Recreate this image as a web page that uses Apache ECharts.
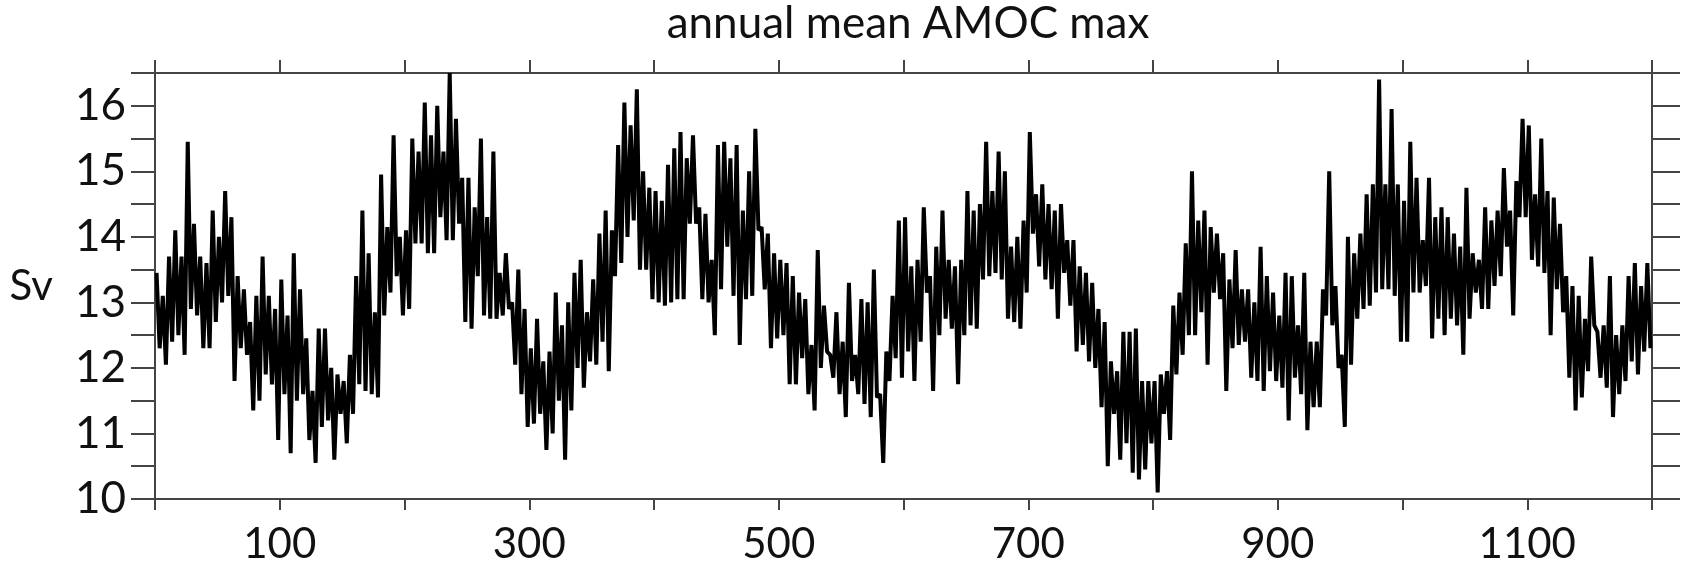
<!DOCTYPE html>
<html>
<head>
<meta charset="utf-8">
<script src="https://cdn.jsdelivr.net/npm/echarts@6/dist/echarts.min.js"></script>
<style>
html,body{margin:0;padding:0;background:#fff;}
#chart{width:1682px;height:577px;}
</style>
</head>
<body>
<div id="chart"></div>
<script>
// 5-year bins starting at year 0; upper and lower extent of the annual series in each bin (Sv)
const binWidth = 5;
const upper = [
  13.45, 13.1, 13.7, 14.1, 13.7, 15.45, 14.2, 13.7, 13.6, 14.4,
  14.0, 14.7, 14.3, 13.4, 13.2, 12.7, 13.1, 13.7, 13.1, 12.9,
  13.35, 12.8, 13.75, 13.2, 12.45, 11.65, 12.6, 12.6, 12.0, 11.9,
  11.8, 12.2, 13.4, 14.4, 13.75, 12.85, 14.95, 14.15, 15.55, 14.0,
  14.1, 15.5, 15.3, 16.05, 15.55, 16.0, 15.3, 16.5, 15.8, 14.9,
  14.9, 14.45, 15.5, 14.3, 15.3, 13.45, 13.75, 13.0, 13.5, 12.9,
  12.3, 12.75, 12.1, 12.25, 13.15, 12.65, 13.0, 13.45, 13.65, 12.85,
  13.35, 14.05, 14.4, 14.1, 15.4, 16.05, 15.7, 16.25, 15.0, 14.75,
  14.7, 14.55, 15.1, 15.35, 15.6, 15.2, 15.55, 14.45, 14.35, 13.65,
  15.4, 15.45, 15.2, 15.4, 14.4, 15.0, 15.65, 14.15, 14.05, 13.75,
  13.65, 13.6, 13.4, 13.15, 13.05, 12.35, 13.8, 12.95, 12.2, 12.85,
  12.4, 13.3, 12.2, 13.05, 13.0, 13.5, 11.6, 12.25, 13.1, 14.25,
  14.3, 13.55, 13.65, 14.45, 13.4, 13.85, 14.4, 13.65, 13.55, 13.65,
  14.7, 14.4, 14.5, 15.45, 14.7, 15.3, 15.0, 13.85, 14.0, 14.25,
  15.6, 14.65, 14.8, 14.5, 14.4, 14.5, 13.95, 13.95, 13.55, 13.45,
  13.3, 12.9, 12.7, 12.1, 11.95, 12.55, 12.55, 12.6, 11.8, 11.8,
  11.8, 11.9, 11.95, 12.95, 13.15, 13.9, 15.0, 14.25, 14.4, 14.15,
  14.05, 13.75, 13.35, 13.8, 13.2, 13.2, 13.0, 13.85, 13.4, 13.15,
  12.8, 13.45, 13.4, 12.65, 13.45, 12.4, 12.4, 13.2, 15.0, 13.25,
  12.2, 14.0, 13.75, 14.05, 14.65, 14.8, 16.4, 14.8, 15.95, 14.8,
  14.55, 15.45, 14.9, 13.95, 14.9, 14.3, 14.45, 14.3, 14.05, 13.85,
  14.75, 13.75, 13.65, 14.45, 14.25, 14.4, 15.05, 14.4, 14.85, 15.8,
  15.7, 14.65, 15.5, 14.7, 14.6, 14.2, 13.4, 13.25, 13.1, 12.75,
  13.7, 12.55, 12.65, 13.4, 12.5, 12.65, 13.4, 13.6, 13.25, 13.6
];
const lower = [
  12.3, 12.05, 12.4, 12.5, 12.2, 12.9, 12.8, 12.3, 12.3, 12.7,
  13.0, 13.1, 11.8, 12.3, 12.2, 11.35, 11.5, 11.9, 11.75, 10.9,
  11.6, 10.7, 11.5, 11.6, 10.9, 10.55, 11.1, 11.2, 10.6, 11.3,
  10.85, 11.3, 11.75, 11.65, 11.6, 11.55, 12.8, 13.15, 13.4, 12.8,
  12.9, 13.9, 13.9, 13.75, 13.75, 14.3, 13.95, 13.95, 14.2, 12.7,
  12.6, 13.4, 12.8, 12.75, 12.75, 12.8, 12.9, 12.05, 11.6, 11.1,
  11.15, 11.3, 10.75, 11.0, 11.5, 10.6, 11.35, 12.0, 11.7, 12.1,
  12.05, 12.4, 11.95, 13.4, 13.6, 14.0, 14.25, 13.5, 13.5, 13.05,
  13.0, 12.95, 13.0, 13.05, 13.05, 14.2, 14.2, 13.05, 13.0, 12.5,
  13.2, 13.85, 13.1, 12.35, 13.05, 13.1, 14.1, 13.2, 12.3, 12.45,
  12.5, 11.75, 11.75, 12.15, 11.6, 11.35, 12.0, 12.25, 11.85, 11.6,
  11.25, 11.8, 11.6, 11.45, 11.25, 11.55, 10.55, 11.8, 12.15, 11.85,
  12.25, 11.8, 12.4, 13.15, 11.65, 12.5, 12.75, 12.6, 11.75, 12.5,
  12.65, 12.6, 13.35, 13.4, 13.45, 13.35, 12.75, 12.7, 12.6, 13.15,
  14.05, 13.55, 13.35, 13.2, 12.75, 13.45, 12.95, 12.25, 12.35, 12.1,
  12.0, 11.4, 10.5, 11.3, 10.6, 10.85, 10.4, 10.3, 10.45, 10.85,
  10.1, 11.3, 10.9, 11.9, 12.2, 12.5, 12.5, 12.85, 12.05, 13.15,
  13.05, 11.65, 12.3, 12.35, 12.4, 11.85, 11.8, 11.65, 11.95, 11.8,
  11.7, 11.2, 11.85, 11.6, 11.05, 11.4, 11.4, 12.8, 12.65, 12.0,
  11.1, 12.05, 12.75, 12.9, 12.95, 13.15, 13.2, 13.2, 13.1, 12.4,
  12.4, 13.15, 13.15, 13.25, 12.45, 12.75, 12.5, 12.75, 12.65, 12.2,
  12.75, 13.15, 12.9, 12.9, 13.25, 13.4, 13.85, 12.8, 14.3, 14.3,
  13.65, 13.55, 13.45, 12.5, 13.2, 12.85, 11.85, 11.35, 11.55, 11.95,
  12.65, 11.85, 11.7, 11.25, 11.6, 11.8, 12.1, 11.9, 12.25, 12.3
];
const xLabelYears = [100, 300, 500, 700, 900, 1100];
const yLabelValues = [10, 11, 12, 13, 14, 15, 16];
const titleText = 'annual mean AMOC max';
const yName = 'Sv';

const series = [];
for (let i = 0; i < upper.length; i++) {
  series.push([i * binWidth + 1.25, upper[i]]);
  series.push([i * binWidth + 3.75, lower[i]]);
}

const FONT = 'Lato';
const axisColor = '#444';
const chart = echarts.init(document.getElementById('chart'), null, {renderer: 'canvas'});
const baseX = {
  type: 'value', min: 0, max: 1200, interval: 100,
  axisLine: {show: true, onZero: false, lineStyle: {color: axisColor, width: 2}},
  splitLine: {show: false}
};
const baseY = {
  type: 'value', min: 10, max: 16.5, interval: 0.5,
  axisLine: {show: true, onZero: false, lineStyle: {color: axisColor, width: 2}},
  splitLine: {show: false}
};
chart.setOption({
  animation: false,
  backgroundColor: '#fff',
  title: {
    text: titleText, left: 903, top: -3, textAlign: 'center',
    textStyle: {fontFamily: FONT, fontSize: 44, fontWeight: 'normal', color: '#111'}
  },
  grid: {left: 155, right: 30, top: 73, bottom: 78},
  xAxis: [
    Object.assign({}, baseX, {
      position: 'bottom',
      axisTick: {show: true, length: 11, lineStyle: {color: axisColor, width: 2}},
      axisLabel: {
        show: true, margin: 24, fontFamily: FONT, fontSize: 42, color: '#111',
        formatter: v => xLabelYears.includes(v) ? String(v) : ''
      }
    }),
    Object.assign({}, baseX, {
      position: 'top',
      axisTick: {show: true, length: 13, lineStyle: {color: axisColor, width: 2}},
      axisLabel: {show: false}
    })
  ],
  yAxis: [
    Object.assign({}, baseY, {
      position: 'left',
      name: yName, nameLocation: 'middle', nameRotate: 0, nameGap: 102,
      nameTextStyle: {fontFamily: FONT, fontSize: 42, color: '#111', padding: [14, 0, 0, 0]},
      axisTick: {show: true, length: 24, lineStyle: {color: axisColor, width: 2}},
      axisLabel: {
        show: true, margin: 29, fontFamily: FONT, fontSize: 44, color: '#111',
        formatter: v => yLabelValues.includes(v) ? String(v) : ''
      }
    }),
    Object.assign({}, baseY, {
      position: 'right',
      axisTick: {show: true, length: 28, lineStyle: {color: axisColor, width: 2}},
      axisLabel: {show: false}
    })
  ],
  series: [{
    type: 'line', data: series, xAxisIndex: 0, yAxisIndex: 0,
    showSymbol: false, symbol: 'none',
    lineStyle: {color: '#000', width: 4, join: 'bevel'},
    silent: true
  }]
});
</script>
</body>
</html>
